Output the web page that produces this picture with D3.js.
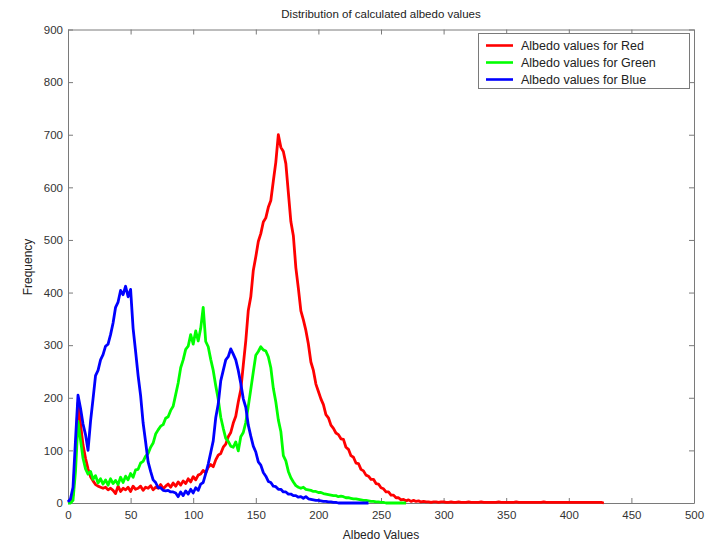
<!DOCTYPE html>
<html lang="en">
<head>
    <meta charset="UTF-8">
    <title>Albedo distribution</title>
    <style>
        body { margin: 0; background: #fff; }
        text { font-family: "Liberation Sans", Arial, sans-serif; }
    </style>
</head>
<body>
<script src="https://d3js.org/d3.v7.min.js"></script>
<script>
    let w = 707, h = 542;
    let inner = {left: 68, right: 694, top: 29.5, bottom: 503};

    // histogram bins, every 2 albedo units starting at 0
    const binStep = 2;
    const xTicks = [0, 50, 100, 150, 200, 250, 300, 350, 400, 450, 500];
    const yTicks = [0, 100, 200, 300, 400, 500, 600, 700, 800, 900];
    const names = ["Albedo values for Red", "Albedo values for Green", "Albedo values for Blue"];
    const colors = ["#ff0000", "#00ff00", "#0000ff"];

    const redCounts = [
        0, 2, 15, 90, 190, 150, 110, 85, 65, 50,
        42, 35, 32, 30, 28, 30, 25, 28, 24, 18,
        32, 22, 28, 25, 30, 22, 32, 26, 28, 32,
        24, 30, 28, 33, 25, 30, 28, 35, 27, 32,
        36, 30, 38, 32, 40, 34, 42, 37, 46, 40,
        50, 44, 53, 55, 62, 57, 68, 73, 69, 82,
        91, 94, 106, 112, 126, 134, 152, 165, 192, 215,
        262, 308, 366, 392, 442, 468, 497, 512, 534, 542,
        562, 575, 612, 648, 700, 676, 668, 645, 590, 535,
        508, 447, 408, 365, 348, 328, 302, 268, 252, 226,
        212, 198, 187, 168, 162, 148, 142, 133, 130, 122,
        121, 106, 102, 90, 87, 76, 75, 64, 61, 53,
        51, 45, 45, 37, 36, 29, 27, 21, 21, 15,
        15, 10, 10, 6, 7, 4, 6, 3, 5, 3,
        4, 2, 3, 2, 2, 1, 2, 2, 1, 2,
        2, 1, 1, 2, 1, 1, 2, 1, 1, 1,
        2, 1, 1, 1, 1, 2, 1, 1, 1, 1,
        1, 1, 2, 1, 1, 1, 1, 1, 1, 2,
        1, 1, 1, 1, 1, 1, 1, 1, 1, 1,
        2, 1, 1, 1, 1, 1, 1, 1, 1, 1,
        1, 1, 1, 1, 1, 1, 1, 1, 1, 1,
        1, 1, 1, 1, 0
    ];

    const greenCounts = [
        0, 0, 5, 60, 155, 120, 85, 65, 55, 60,
        45, 52, 38, 46, 36, 44, 34, 46, 37, 43,
        35, 49, 39, 51, 44, 56, 49, 63, 64, 76,
        79, 89, 94, 106, 114, 131, 139, 146, 149, 161,
        164, 176, 184, 206, 228, 257, 272, 292, 298, 320,
        302, 327, 308, 332, 372, 307, 297, 273, 252, 223,
        197, 163, 142, 123, 117, 108, 106, 116, 99, 126,
        134, 153, 184, 216, 249, 281, 288, 297, 291, 289,
        278, 257, 218, 192, 158, 136, 90, 80, 60, 48,
        40, 33, 30, 28, 30, 26, 25, 24, 22, 22,
        20, 20, 18, 17, 16, 15, 14, 14, 12, 13,
        12, 10, 10, 9, 8, 8, 7, 6, 5, 5,
        4, 3, 3, 2, 2, 1, 1, 0, 0, 0,
        0, 0, 0, 0, 0, 0
    ];

    const blueCounts = [
        2, 8, 30, 120, 205, 180, 150, 130, 100, 155,
        198, 242, 252, 272, 282, 298, 302, 320, 342, 372,
        382, 404, 396, 412, 392, 406, 332, 288, 242, 204,
        152, 116, 78, 60, 44, 39, 29, 29, 24, 23,
        24, 21, 21, 19, 12, 21, 14, 23, 17, 26,
        19, 29, 24, 36, 39, 56, 74, 96, 118, 162,
        188, 232, 252, 272, 278, 293, 283, 272, 252, 227,
        198, 182, 148, 127, 108, 97, 78, 72, 58, 51,
        41, 39, 32, 31, 26, 26, 21, 21, 17, 17,
        14, 14, 11, 12, 9, 12, 8, 7, 6, 5,
        5, 4, 3, 3, 2, 2, 1, 1, 0, 0,
        0, 0, 0, 0, 0, 0, 0, 0, 0, 0,
        0
    ];

    const series = [redCounts, greenCounts, blueCounts];

    let x = d3.scaleLinear().domain([0, 500]).range([inner.left, inner.right]);
    let y = d3.scaleLinear().domain([0, 900]).range([inner.bottom, inner.top]);

    let svg = d3.select("body")
        .append("svg")
        .attr("width", w)
        .attr("height", h);

    svg.append("rect")
        .attr("width", w)
        .attr("height", h)
        .attr("fill", "#fff");

    // axes, matlab style box with ticks inside on all sides
    let axisColor = "#7a7a7a";
    let tickLen = 5;

    function styleAxis(g) {
        g.select(".domain").attr("stroke", axisColor).attr("stroke-width", 1);
        g.selectAll(".tick line").attr("stroke", axisColor);
        g.selectAll(".tick text")
            .attr("fill", "#333")
            .style("font-size", "11.5px");
    }

    svg.append("g")
        .attr("transform", "translate(0," + inner.bottom + ")")
        .call(d3.axisBottom(x).tickValues(xTicks).tickSize(-tickLen).tickPadding(8).tickSizeOuter(0))
        .call(styleAxis);

    svg.append("g")
        .attr("transform", "translate(0," + inner.top + ")")
        .call(d3.axisTop(x).tickValues(xTicks).tickSize(-tickLen).tickFormat("").tickSizeOuter(0))
        .call(styleAxis);

    svg.append("g")
        .attr("transform", "translate(" + inner.left + ",0)")
        .call(d3.axisLeft(y).tickValues(yTicks).tickSize(-tickLen).tickPadding(5).tickSizeOuter(0))
        .call(styleAxis);

    svg.append("g")
        .attr("transform", "translate(" + inner.right + ",0)")
        .call(d3.axisRight(y).tickValues(yTicks).tickSize(-tickLen).tickFormat("").tickSizeOuter(0))
        .call(styleAxis);

    // lines
    let line = d3.line()
        .x(function (d, i) { return x(i * binStep); })
        .y(function (d) { return y(d); });

    svg.selectAll("path.series")
        .data(series)
        .enter()
        .append("path")
        .attr("class", "series")
        .attr("d", line)
        .attr("fill", "none")
        .attr("stroke", function (d, i) { return colors[i]; })
        .attr("stroke-width", 2.8)
        .attr("stroke-linejoin", "round");

    // titles
    svg.append("text")
        .attr("x", 381)
        .attr("y", 18)
        .attr("text-anchor", "middle")
        .attr("fill", "#222")
        .style("font-size", "11.5px")
        .text("Distribution of calculated albedo values");

    svg.append("text")
        .attr("x", 381)
        .attr("y", 539)
        .attr("text-anchor", "middle")
        .attr("fill", "#222")
        .style("font-size", "12px")
        .text("Albedo Values");

    svg.append("text")
        .attr("transform", "translate(32,267) rotate(-90)")
        .attr("text-anchor", "middle")
        .attr("fill", "#222")
        .style("font-size", "12px")
        .text("Frequency");

    // legend
    let legend = svg.append("g");
    legend.append("rect")
        .attr("x", 478.5)
        .attr("y", 33.5)
        .attr("width", 211)
        .attr("height", 55)
        .attr("fill", "#fff")
        .attr("stroke", axisColor);

    let items = legend.selectAll("g.item")
        .data(names)
        .enter()
        .append("g")
        .attr("class", "item")
        .attr("transform", function (d, i) { return "translate(0," + (45.5 + i * 17) + ")"; });

    items.append("line")
        .attr("x1", 486)
        .attr("x2", 513)
        .attr("stroke", function (d, i) { return colors[i]; })
        .attr("stroke-width", 2.6);

    items.append("text")
        .attr("x", 521)
        .attr("y", 4.5)
        .attr("fill", "#222")
        .style("font-size", "12.5px")
        .text(function (d) { return d; });
</script>
</body>
</html>
